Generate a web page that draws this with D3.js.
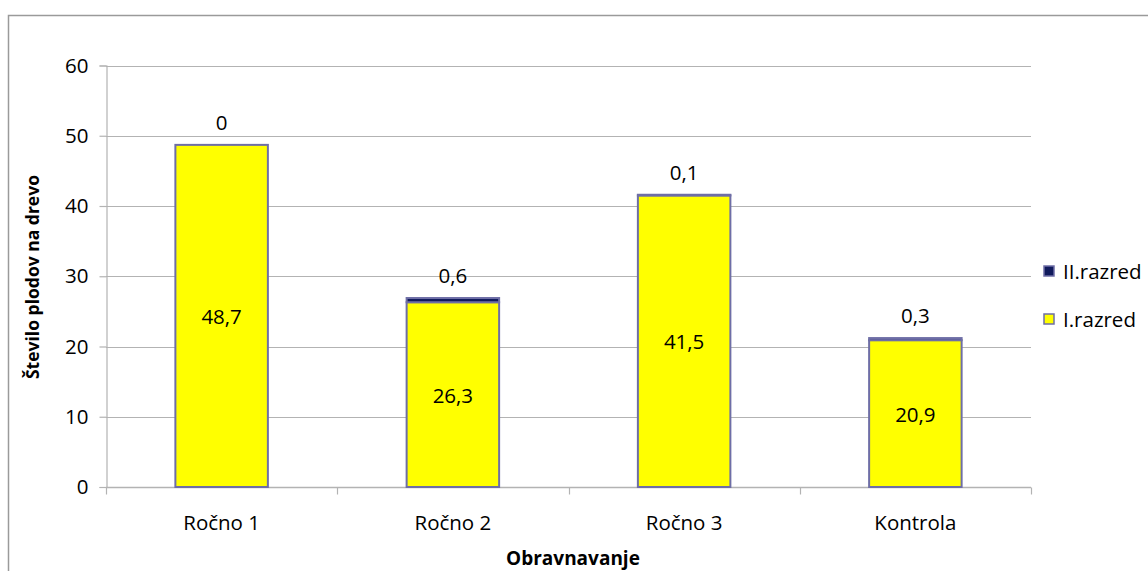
<!DOCTYPE html>
<html>
<head>
<meta charset="utf-8">
<script src="https://cdn.jsdelivr.net/npm/d3@7/dist/d3.min.js"></script>
<style>
  html, body { margin: 0; padding: 0; background: #fff; }
  svg { display: block; font-family: "Open Sans", "Noto Sans", sans-serif; }
</style>
</head>
<body>
<svg id="chart" width="1148" height="571"></svg>
<script>
// Treatments on the x axis
const categories = ["Ročno 1", "Ročno 2", "Ročno 3", "Kontrola"];
// Fruits per tree, first class (bottom segment)
const razred1 = [48.7, 26.3, 41.5, 20.9];
// Fruits per tree, second class (top segment)
const razred2 = [0, 0.6, 0.1, 0.3];
const yTicks = [0, 10, 20, 30, 40, 50, 60];
const seriesNames = ["I.razred", "II.razred"];

const fmt = v => String(v).replace(".", ",");

const svg = d3.select("#chart");
const W = 1148, H = 571;
const m = { left: 106, right: 1031, top: 65.5, bottom: 487 };
const fs = 20.5;

// Outer chart frame
svg.append("rect")
  .attr("x", 8.5).attr("y", 15.5)
  .attr("width", W + 20).attr("height", H + 20)
  .attr("fill", "none").attr("stroke", "#9a9a9a").attr("stroke-width", 1.5);

const x = d3.scaleBand().domain(categories).range([m.left, m.right]).paddingInner(0).paddingOuter(0);
const y = d3.scaleLinear().domain([0, 60]).range([m.bottom, m.top]);

// Horizontal gridlines
svg.append("g").selectAll("line").data(yTicks.filter(t => t > 0)).join("line")
  .attr("x1", m.left).attr("x2", m.right)
  .attr("y1", d => Math.round(y(d)) + 0.5).attr("y2", d => Math.round(y(d)) + 0.5)
  .attr("stroke", "#b3b3b3").attr("stroke-width", 1.2);

// Y axis
const yAxis = svg.append("g").attr("transform", `translate(${m.left + 0.5},0)`)
  .call(d3.axisLeft(y).tickValues(yTicks).tickSize(7).tickPadding(11).tickFormat(d => d));
yAxis.select(".domain").attr("stroke", "#b3b3b3").attr("stroke-width", 1.2);
yAxis.selectAll(".tick line").attr("stroke", "#b3b3b3").attr("stroke-width", 1.2);
yAxis.selectAll(".tick text").attr("font-size", fs).attr("fill", "#000")
  .attr("font-family", "'Open Sans', sans-serif");

// X axis with ticks at category boundaries
const xAxisY = m.bottom + 0.5;
svg.append("line").attr("x1", m.left).attr("x2", m.right)
  .attr("y1", xAxisY).attr("y2", xAxisY)
  .attr("stroke", "#b3b3b3").attr("stroke-width", 1.5);
const bounds = categories.map(c => x(c)).concat([x(categories[categories.length - 1]) + x.bandwidth()]);
svg.append("g").selectAll("line").data(bounds).join("line")
  .attr("x1", d => Math.round(d) + 0.5).attr("x2", d => Math.round(d) + 0.5)
  .attr("y1", xAxisY).attr("y2", xAxisY + 7)
  .attr("stroke", "#b3b3b3").attr("stroke-width", 1.2);
svg.append("g").selectAll("text").data(categories).join("text")
  .attr("x", d => x(d) + x.bandwidth() / 2).attr("y", 530)
  .attr("text-anchor", "middle").attr("font-size", fs).attr("fill", "#000")
  .text(d => d);

// Stacked bars
const rows = categories.map((c, i) => ({ cat: c, "I.razred": razred1[i], "II.razred": razred2[i] }));
const stack = d3.stack().keys(seriesNames)(rows);
const colors = { "I.razred": "#ffff00", "II.razred": "#101a5c" };
const barW = x.bandwidth() * 0.4;

const layers = svg.append("g").selectAll("g").data(stack).join("g")
  .attr("fill", d => colors[d.key]);
layers.selectAll("rect").data(d => d).join("rect")
  .attr("x", d => x(d.data.cat) + (x.bandwidth() - barW) / 2)
  .attr("y", d => y(d[1]))
  .attr("width", barW)
  .attr("height", d => Math.max(0, y(d[0]) - y(d[1])))
  .attr("stroke", "#6e6ea6").attr("stroke-width", 2);

// Value labels: first class centred in its segment, second class above the bar
svg.append("g").selectAll("text").data(stack[0]).join("text")
  .attr("x", d => x(d.data.cat) + x.bandwidth() / 2)
  .attr("y", d => (y(d[0]) + y(d[1])) / 2 + 8)
  .attr("text-anchor", "middle").attr("font-size", fs).attr("fill", "#000")
  .text(d => fmt(d.data["I.razred"]));
svg.append("g").selectAll("text").data(stack[1]).join("text")
  .attr("x", d => x(d.data.cat) + x.bandwidth() / 2)
  .attr("y", d => y(d[1]) - 15)
  .attr("text-anchor", "middle").attr("font-size", fs).attr("fill", "#000")
  .text(d => fmt(d.data["II.razred"]));

// Legend (second class listed first)
const legend = svg.append("g");
const legendItems = [{ key: "II.razred", y: 271 }, { key: "I.razred", y: 319 }];
legendItems.forEach(it => {
  legend.append("rect").attr("x", 1044).attr("y", it.y - 5).attr("width", 10).attr("height", 10)
    .attr("fill", colors[it.key]).attr("stroke", "#6e6ea6").attr("stroke-width", 1.5);
  legend.append("text").attr("x", 1063).attr("y", it.y + 8)
    .attr("font-size", 20.5).attr("fill", "#000").text(it.key);
});

// Axis titles
svg.append("text").attr("x", 573).attr("y", 565)
  .attr("text-anchor", "middle").attr("font-size", 19).attr("font-weight", "bold")
  .attr("fill", "#000").text("Obravnavanje");
svg.append("text").attr("transform", "translate(39,277) rotate(-90)")
  .attr("text-anchor", "middle").attr("font-size", 17.5).attr("font-weight", "bold")
  .attr("fill", "#000").text("Število plodov na drevo");
</script>
</body>
</html>
